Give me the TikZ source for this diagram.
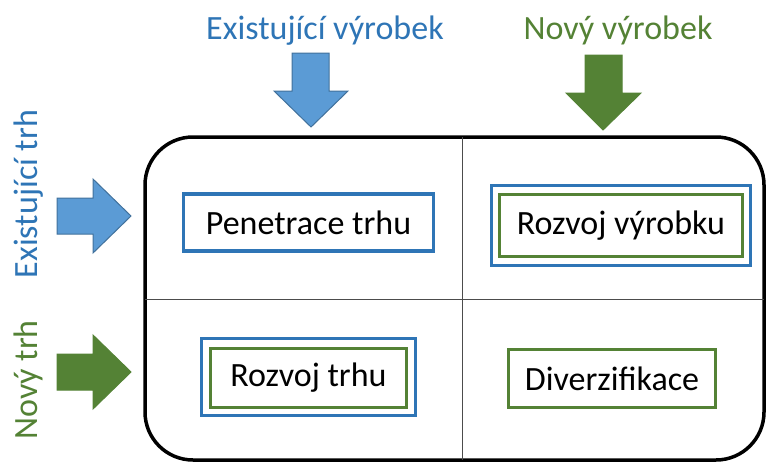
\documentclass[tikz,border=0pt]{standalone}
\usepackage{fontspec}
\setmainfont{Carlito}
\definecolor{officeblue}{HTML}{2E75B6}
\definecolor{arrowblue}{HTML}{5B9BD5}
\definecolor{arrowblueline}{HTML}{41719C}
\definecolor{officegreen}{HTML}{548235}
\begin{document}
\begin{tikzpicture}[x=1pt,y=-1pt,
  label/.style={font=\fontsize{34}{40}\selectfont, inner sep=0pt},
  cellbox/.style={draw, line width=3.5pt, fill=white, font=\fontsize{34}{40}\selectfont, inner sep=0pt},
  bluebox/.style={cellbox, draw=officeblue},
  greenbox/.style={cellbox, draw=officegreen},
  bluearrow/.style={fill=arrowblue, draw=arrowblueline, line width=1pt, line join=miter},
  greenarrow/.style={fill=officegreen, draw=officegreen, line width=1pt, line join=miter},
  divider/.style={draw=black!70, line width=1pt}]
\useasboundingbox (0,0) rectangle (767,463);

% matrix frame and quadrant dividers
\draw[line width=3.5pt, rounded corners=48pt] (145,137) rectangle (764,460);
\draw[divider] (462,137) -- (462,460);
\draw[divider] (145,299) -- (764,299);

% axis captions
\node[label, anchor=base, text=officeblue] (existprod) at (325,39) {Existující výrobek};
\node[label, anchor=base, text=officegreen] (newprod) at (618,39) {Nový výrobek};
\node[label, anchor=base, rotate=90, text=officeblue] (existmarket) at (37,194) {Existující trh};
\node[label, anchor=base, rotate=90, text=officegreen] (newmarket) at (37,380) {Nový trh};

% block arrows
\draw[bluearrow] (292,53) -- (329,53) -- (329,91) -- (348,91) -- (311,127) -- (274,91) -- (292,91) -- cycle;
\draw[greenarrow] (585,55) -- (622,55) -- (622,93) -- (641,93) -- (603,130) -- (566,93) -- (585,93) -- cycle;
\draw[bluearrow] (57,198) -- (93,198) -- (93,179) -- (131,216) -- (93,253) -- (93,234) -- (57,234) -- cycle;
\draw[greenarrow] (57,354) -- (93,354) -- (93,335) -- (131,372) -- (93,409) -- (93,390) -- (57,390) -- cycle;

% strategy cells
\node[bluebox, minimum width=250pt, minimum height=57pt] (penetrace) at (308.5,222.5) {Penetrace trhu};

\node[bluebox, minimum width=259pt, minimum height=80pt] (rvouter) at (621,225.5) {};
\node[greenbox, minimum width=243pt, minimum height=62pt] (rozvojvyrobku) at (621,225.5) {Rozvoj výrobku};

\node[bluebox, minimum width=214pt, minimum height=77pt] (rtouter) at (308.5,377) {};
\node[greenbox, minimum width=196pt, minimum height=59pt] (rozvojtrhu) at (308.5,378) {Rozvoj trhu};

\node[greenbox, minimum width=207pt, minimum height=58pt] (diverzifikace) at (612,378.5) {Diverzifikace};
\end{tikzpicture}
\end{document}
